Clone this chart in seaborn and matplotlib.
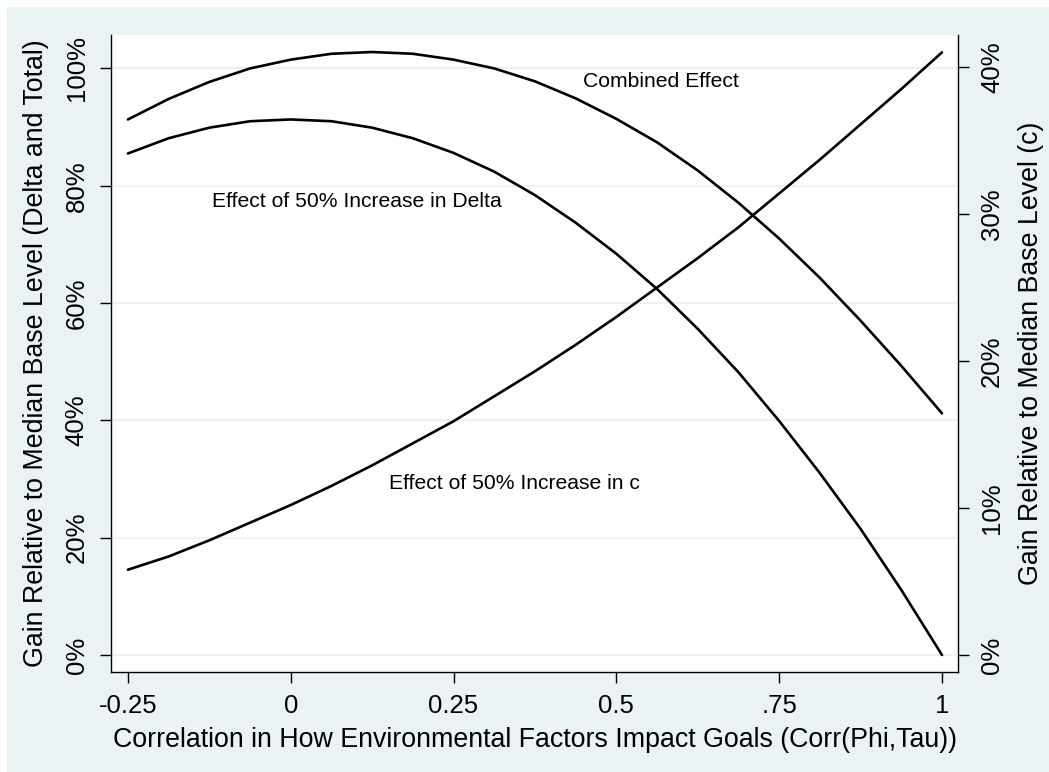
import matplotlib
matplotlib.use("Agg")
import matplotlib.pyplot as plt
import matplotlib.patches as mpatches
from matplotlib.ticker import FixedLocator, FuncFormatter
import pandas as pd
import seaborn as sns

# Correlation between how environmental factors impact goals
corr = [-0.25, -0.1875, -0.125, -0.0625, 0.0, 0.0625, 0.125, 0.1875, 0.25, 0.3125,
        0.375, 0.4375, 0.5, 0.5625, 0.625, 0.6875, 0.75, 0.8125, 0.875, 0.9375, 1.0]

# Gain (%) from a 50% increase in Delta (left axis)
gain_delta = [85.5, 88.1, 89.9, 91.0, 91.3, 91.0, 89.9, 88.1, 85.6, 82.4,
              78.4, 73.7, 68.4, 62.4, 55.6, 48.2, 39.9, 31.0, 21.5, 11.1, 0.0]

# Gain (%) from both increases combined (left axis)
gain_combined = [91.3, 94.8, 97.7, 100.0, 101.5, 102.5, 102.8, 102.5, 101.5, 100.0,
                 97.8, 94.9, 91.4, 87.4, 82.6, 77.1, 71.0, 64.3, 57.0, 49.3, 41.2]

# Gain (%) from a 50% increase in c (right axis)
gain_c = [5.8, 6.7, 7.8, 9.0, 10.2, 11.5, 12.9, 14.4, 15.9, 17.6,
          19.3, 21.1, 23.0, 25.0, 27.0, 29.1, 31.4, 33.7, 36.1, 38.5, 41.0]

x_ticks = [-0.25, 0, 0.25, 0.5, 0.75, 1]
x_tick_labels = ["-0.25", "0", "0.25", "0.5", ".75", "1"]
left_ticks = [0, 20, 40, 60, 80, 100]
right_ticks = [0, 10, 20, 30, 40]

df = pd.DataFrame({"corr": corr, "delta": gain_delta,
                   "combined": gain_combined, "c": gain_c})

sns.set_theme(style="white")
plt.rcParams["font.family"] = ["Liberation Sans", "DejaVu Sans"]

BG = "#EAF2F3"
W, H = 1049, 772
fig = plt.figure(figsize=(W / 100, H / 100), dpi=100, facecolor="white")
fig.patches.append(mpatches.Rectangle((7 / W, 0), 1 - 7 / W, 1 - 7 / H,
                                      transform=fig.transFigure,
                                      facecolor=BG, edgecolor="none", zorder=-10))

ax = fig.add_axes([111 / W, 1 - 672 / H, (958 - 111) / W, (672 - 35) / H])
ax.set_facecolor("white")
ax2 = ax.twinx()

line_kw = dict(color="black", linewidth=1.9)
sns.lineplot(data=df, x="corr", y="combined", ax=ax, **line_kw)
sns.lineplot(data=df, x="corr", y="delta", ax=ax, **line_kw)
sns.lineplot(data=df, x="corr", y="c", ax=ax2, **line_kw)

ax.set_xlim(-0.276, 1.0246)
ax.set_ylim(-2.9, 105.7)
ax2.set_ylim(-1.16, 42.18)

# horizontal grid at the left-axis ticks
for v in left_ticks:
    ax.axhline(v, color=BG, linewidth=1.6, zorder=0.5)

pct = FuncFormatter(lambda v, _: f"{v:.0f}%")
ax.xaxis.set_major_locator(FixedLocator(x_ticks))
ax.set_xticklabels(x_tick_labels)
ax.yaxis.set_major_locator(FixedLocator(left_ticks))
ax.yaxis.set_major_formatter(pct)
ax2.yaxis.set_major_locator(FixedLocator(right_ticks))
ax2.yaxis.set_major_formatter(pct)

fs_tick = 18.5
tick_kw = dict(direction="out", length=8, width=1.0, color="black",
               labelsize=fs_tick, labelcolor="black", pad=8)
ax.tick_params(axis="x", bottom=True, **tick_kw)
ax.tick_params(axis="y", left=True, **tick_kw)
ax2.tick_params(axis="y", right=True, **tick_kw)
for lab in ax.get_yticklabels():
    lab.set_rotation(90)
    lab.set_va("center")
for lab in ax2.get_yticklabels():
    lab.set_rotation(90)
    lab.set_va("center")

for a in (ax, ax2):
    a.spines["top"].set_visible(False)
    for s in ("left", "right", "bottom"):
        a.spines[s].set_color("black")
        a.spines[s].set_linewidth(1.0)
ax.spines["right"].set_visible(False)
ax2.spines["left"].set_visible(False)
ax2.spines["bottom"].set_visible(False)

fs_label = 19.3
ax.set_xlabel("Correlation in How Environmental Factors Impact Goals (Corr(Phi,Tau))",
              fontsize=fs_label, color="black")
ax.set_ylabel("Gain Relative to Median Base Level (Delta and Total)",
              fontsize=fs_label, color="black")
ax2.set_ylabel("Gain Relative to Median Base Level (c)",
               fontsize=fs_label, color="black", rotation=90)
ax.xaxis.set_label_coords((535 - 111) / 847, (672 - 740) / 637)
ax.xaxis.label.set_va("center")
ax.yaxis.set_label_coords((36 - 111) / 847, 0.5)
ax.yaxis.label.set_va("center")
ax2.yaxis.set_label_coords((1031 - 111) / 847, 0.5)
ax2.yaxis.label.set_va("center")
ax2.yaxis.label.set_ha("center")

fs_ann = 15.2
ax.text(0.449, 97.7, "Combined Effect", fontsize=fs_ann, va="center", ha="left", color="black")
ax.text(-0.1215, 77.3, "Effect of 50% Increase in Delta", fontsize=fs_ann,
        va="center", ha="left", color="black")
ax.text(0.151, 29.3, "Effect of 50% Increase in c", fontsize=fs_ann,
        va="center", ha="left", color="black")

fig.savefig("out.png", dpi=100, facecolor=fig.get_facecolor())
